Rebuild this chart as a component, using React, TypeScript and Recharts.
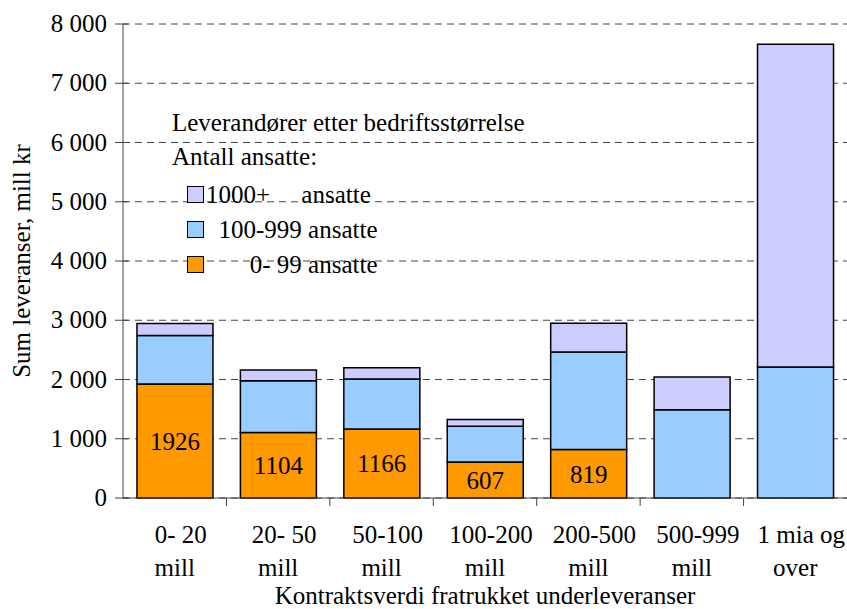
import React from 'react';
import { BarChart, Bar, XAxis, YAxis, CartesianGrid, Legend, LabelList } from 'recharts';

// Contract value brackets (two-line tick labels)
const categories = ['0- 20|mill', '20- 50|mill', '50-100|mill', '100-200|mill', '200-500|mill', '500-999|mill', '1 mia og|over'];

// Suppliers by company size, mill kr
const small = [1926, 1104, 1166, 607, 819, 0, 0];
const medium = [815, 876, 841, 605, 1645, 1489, 2210];
const large = [203, 179, 193, 113, 485, 552, 5448];

const yTicks = [0, 1000, 2000, 3000, 4000, 5000, 6000, 7000, 8000];

const legendItems = [
  { label: '1000+     ansatte', color: '#CCCCFF' },
  { label: '  100-999 ansatte', color: '#99CCFF' },
  { label: '       0- 99 ansatte', color: '#FF9900' },
];

const data = categories.map((name, i) => ({
  name,
  small: small[i] || null,
  medium: medium[i],
  large: large[i],
}));

const W = 847;
const H = 609;
const M = { top: 24, right: 0, bottom: 0, left: 0 };
const Y_AXIS_W = 123;
const X_AXIS_H = 111;
const PLOT_W = W - M.left - M.right - Y_AXIS_W;
const FONT = '"Liberation Serif", "Times New Roman", serif';

const fmt = (v: number) => (v === 0 ? '0' : v.toLocaleString('en-US').replace(/,/g, ' '));

const YTick = (props: any) => {
  const { x, y, payload } = props;
  return (
    <g>
      <line x1={x} x2={x + 13} y1={y} y2={y} stroke="#444" strokeWidth={1} />
      <text x={x - 8} y={y + 8} textAnchor="end" fontFamily={FONT} fontSize={25} fill="#000">
        {fmt(payload.value)}
      </text>
    </g>
  );
};

const XTick = (props: any) => {
  const { x, y, payload, index } = props;
  const [l1, l2] = String(payload.value).split('|');
  const band = PLOT_W / categories.length;
  return (
    <g>
      {index < categories.length - 1 && (
        <line x1={x + band / 2} x2={x + band / 2} y1={y} y2={y + 8} stroke="#444" strokeWidth={1} />
      )}
      <text textAnchor="middle" fontFamily={FONT} fontSize={25} fill="#000">
        <tspan x={x + 6} y={y + 45}>{l1}</tspan>
        <tspan x={x} y={y + 78}>{l2}</tspan>
      </text>
    </g>
  );
};

const LegendBox = () => (
  <div style={{ fontFamily: FONT, fontSize: 25, color: '#000', lineHeight: '34px', whiteSpace: 'pre' }}>
    <div>Leverandører etter bedriftsstørrelse</div>
    <div>Antall ansatte:</div>
    <div style={{ marginTop: 3 }}>
      {legendItems.map((it) => (
        <div key={it.label} style={{ display: 'flex', alignItems: 'center', height: 35 }}>
          <span
            style={{
              display: 'inline-block',
              width: 15,
              height: 15,
              marginLeft: 15,
              marginRight: 2,
              background: it.color,
              border: '1.5px solid #000',
            }}
          />
          <span>{it.label}</span>
        </div>
      ))}
    </div>
  </div>
);

export default function App() {
  return (
    <div style={{ position: 'absolute', left: 0, top: 0, width: W, height: H, background: '#fff' }}>
      <BarChart width={W} height={H} data={data} margin={M} barCategoryGap="13.5%">
        <CartesianGrid vertical={false} stroke="#444" strokeDasharray="7 5" />
        <XAxis
          dataKey="name"
          height={X_AXIS_H}
          axisLine={{ stroke: '#444' }}
          tickLine={false}
          tickSize={0}
          tickMargin={0}
          interval={0}
          tick={<XTick />}
          label={(p: any) => {
            const vb = p.viewBox || {};
            return (
              <text x={vb.x + vb.width / 2} y={604} textAnchor="middle" fontFamily={FONT} fontSize={25} fill="#000">
                Kontraktsverdi fratrukket underleveranser
              </text>
            );
          }}
        />
        <YAxis
          width={Y_AXIS_W}
          domain={[0, 8000]}
          ticks={yTicks}
          interval={0}
          axisLine={{ stroke: '#444' }}
          tickLine={false}
          tickSize={8}
          tickMargin={0}
          tick={<YTick />}
          label={() => (
            <text
              x={30}
              y={261}
              transform="rotate(-90 30 261)"
              textAnchor="middle"
              fontFamily={FONT}
              fontSize={25}
              fill="#000"
            >
              Sum leveranser, mill kr
            </text>
          )}
        />
        <Legend
          layout="vertical"
          align="center"
          verticalAlign="middle"
          content={<LegendBox />}
          wrapperStyle={{ left: 172, top: 106, width: 420 }}
        />
        <Bar dataKey="small" stackId="a" fill="#FF9900" stroke="#000" strokeWidth={1.5} isAnimationActive={false}>
          <LabelList dataKey="small" position="center" fontFamily={FONT} fontSize={25} fill="#000" />
        </Bar>
        <Bar dataKey="medium" stackId="a" fill="#99CCFF" stroke="#000" strokeWidth={1.5} isAnimationActive={false} />
        <Bar dataKey="large" stackId="a" fill="#CCCCFF" stroke="#000" strokeWidth={1.5} isAnimationActive={false} />
      </BarChart>
    </div>
  );
}
